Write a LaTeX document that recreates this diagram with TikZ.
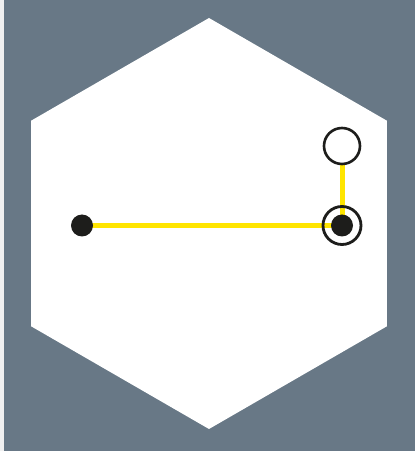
\documentclass[tikz,border=0pt]{standalone}
\usetikzlibrary{shapes.geometric, positioning}
\usepackage{xcolor}
\definecolor{slate}{HTML}{687886}
\definecolor{strip}{HTML}{F0F0F0}
\definecolor{trackyellow}{HTML}{FFE500}
\definecolor{inkblack}{HTML}{1D1D1B}
\tikzset{
    board/.style={regular polygon, regular polygon sides=6, shape border rotate=30, minimum size=411pt, inner sep=0pt, fill=white, draw=none},
    stop/.style={circle, fill=inkblack, minimum size=22pt, inner sep=0pt},
    halo/.style={circle, draw=inkblack, line width=2.8pt, minimum size=38pt, inner sep=0pt},
    freestop/.style={circle, draw=inkblack, fill=white, line width=2.6pt, minimum size=36pt, inner sep=0pt},
    track/.style={trackyellow, line width=5pt}
}
\begin{document}
\begin{tikzpicture}[x=1pt, y=1pt]
    \fill[strip] (0,0) rectangle (415,451);
    \fill[slate] (4,0) rectangle (415,451);
    \useasboundingbox (0,0) rectangle (415,451);
    \node[board] (hex) at (209,227.5) {};
    % stops
    \coordinate (start) at (82,225.5);
    \coordinate (turn) at (342,225.5);
    \coordinate (goal) at (342,305);
    \draw[track] (start) -- (turn) -- (goal);
    \node[stop] (startdot) at (start) {};
    \node[halo] (turnring) at (turn) {};
    \node[stop] (turndot) at (turn) {};
    \node[freestop] (goalring) at (goal) {};
\end{tikzpicture}
\end{document}
